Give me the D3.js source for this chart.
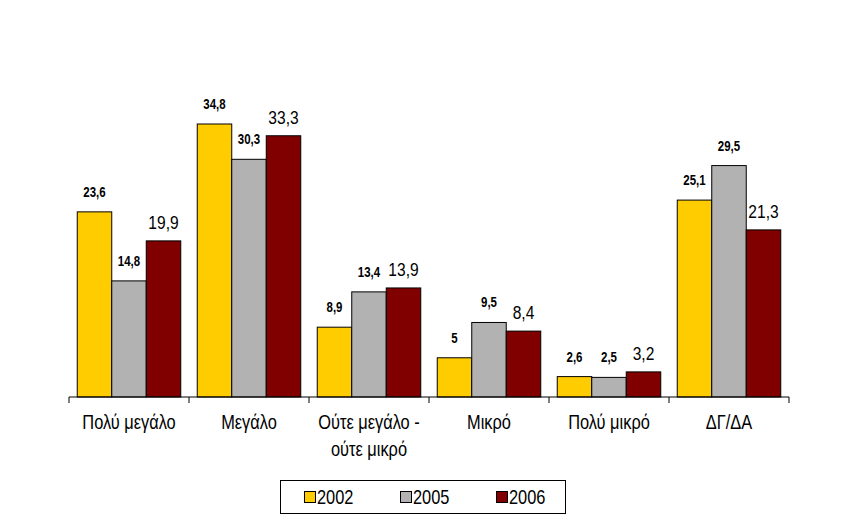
<!DOCTYPE html>
<html><head><meta charset="utf-8">
<script src="https://cdn.jsdelivr.net/npm/d3@7"></script>
<style>body{margin:0;background:#fff}svg{display:block}text{font-family:"Liberation Sans",Arial,sans-serif}</style>
</head><body><svg id="c" width="862" height="527"></svg>
<script>
const categories = [["Πολύ μεγάλο"],["Μεγάλο"],["Ούτε μεγάλο -","ούτε μικρό"],["Μικρό"],["Πολύ μικρό"],["ΔΓ/ΔΑ"]];
const seriesNames = ["2002","2005","2006"];
const v2002 = [23.6, 34.8, 8.9, 5, 2.6, 25.1];
const v2005 = [14.8, 30.3, 13.4, 9.5, 2.5, 29.5];
const v2006 = [19.9, 33.3, 13.9, 8.4, 3.2, 21.3];
const colors = ["#FFCC00","#B2B2B2","#800000"];
const series = [v2002, v2005, v2006];
const NARROW = 0.82;

const svg = d3.select("#c");
const x0 = d3.scaleBand().domain(d3.range(categories.length)).range([69, 789]);
const x1 = d3.scaleBand().domain(d3.range(3)).range([0, x0.bandwidth()]).paddingOuter(0.239).paddingInner(0);
const y = d3.scaleLinear().domain([0, 34.8]).range([397, 124]);
const fmt = v => String(v).replace(".", ",");

function ntext(g, x, yy, str, size, weight, anchor) {
  return g.append("text")
    .attr("transform", `translate(${x},${yy}) scale(${NARROW},1)`)
    .attr("text-anchor", anchor || "middle")
    .attr("font-size", size).attr("font-weight", weight || "normal")
    .attr("fill", "#000").text(str);
}

series.forEach((vals, s) => {
  svg.append("g").selectAll("rect").data(vals).join("rect")
    .attr("x", (d,i) => x0(i) + x1(s))
    .attr("y", d => y(d))
    .attr("width", x1.bandwidth())
    .attr("height", d => y(0) - y(d))
    .attr("fill", colors[s]).attr("stroke", "#000").attr("stroke-width", 1);
  const lg = svg.append("g");
  vals.forEach((d, i) => {
    const cx = x0(i) + x1(s) + x1.bandwidth()/2;
    if (s === 2) ntext(lg, cx, y(d) - 12, fmt(d), 19, "normal");
    else ntext(lg, cx, y(d) - 15, fmt(d), 14, "bold");
  });
});

const ag = svg.append("g").attr("transform", "translate(0,397)")
  .call(d3.axisBottom(x0).tickSize(0).tickFormat(""));
ag.select(".domain").attr("stroke", "#000").attr("d", `M${x0.range()[0]},0H${x0.range()[1]}`);
ag.selectAll(".tick").remove();
svg.append("g").selectAll("line").data(d3.range(categories.length + 1)).join("line")
  .attr("x1", i => x0.range()[0] + i * x0.bandwidth()).attr("x2", i => x0.range()[0] + i * x0.bandwidth())
  .attr("y1", 397).attr("y2", 403).attr("stroke", "#000");

const cg = svg.append("g");
categories.forEach((lines, i) => {
  lines.forEach((t, j) => ntext(cg, x0(i) + x0.bandwidth()/2, 429 + j * 27, t, 20, "normal"));
});

const leg = svg.append("g");
leg.append("rect").attr("x", 280.5).attr("y", 480.5).attr("width", 285).attr("height", 33).attr("fill", "#fff").attr("stroke", "#000");
seriesNames.forEach((n, i) => {
  const sx = 304 + i * 96;
  leg.append("rect").attr("x", sx + 0.5).attr("y", 491.5).attr("width", 11).attr("height", 11).attr("fill", colors[i]).attr("stroke", "#000");
  ntext(leg, sx + 13, 504, n, 20, "normal", "start");
});
</script></body></html>
